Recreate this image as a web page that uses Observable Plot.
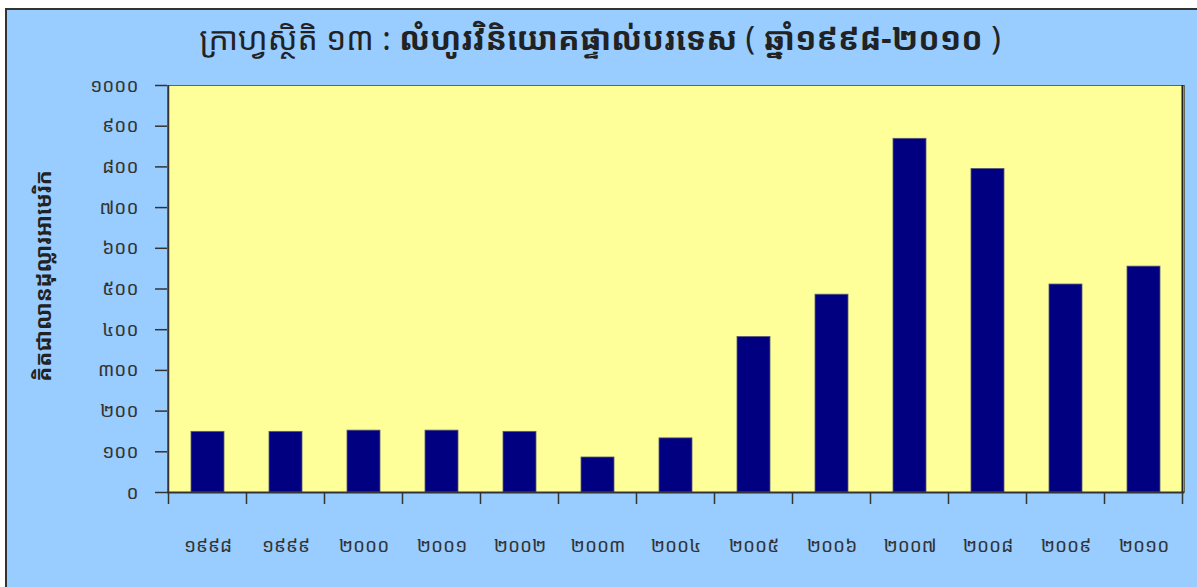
<!DOCTYPE html>
<html>
<head>
<meta charset="utf-8">
<script src="https://cdn.jsdelivr.net/npm/d3@7"></script>
<script src="https://cdn.jsdelivr.net/npm/@observablehq/plot@0.6"></script>
<style>
  html, body { margin: 0; padding: 0; background: #ffffff; overflow: hidden; width: 1197px; height: 587px; }
  #frame {
    position: absolute; left: 5px; top: 8px; width: 1200px; height: 600px;
    background: #99CCFF; border: 2px solid #333333; overflow: hidden;
    font-family: "Noto Sans Khmer", "Khmer OS", "Khmer OS System", "Noto Serif Khmer", "DejaVu Sans", sans-serif;
  }
  #title {
    height: 59px; width: 1186px; text-align: center; line-height: 56px;
    font-size: 32px; color: #222222; white-space: nowrap;
  }
  #title b { font-weight: bold; }
  #chart { position: absolute; left: 0; top: 59px; }
</style>
</head>
<body>
<div id="frame">
  <div id="title">ក្រាហ្វស្ថិតិ ១៣ : <b>លំហូរវិនិយោគផ្ទាល់បរទេស</b> ( <b>ឆ្នាំ១៩៩៨-២០១០</b> )</div>
  <div id="chart"></div>
</div>
<script>
const years = ["១៩៩៨","១៩៩៩","២០០០","២០០១","២០០២","២០០៣","២០០៤","២០០៥","២០០៦","២០០៧","២០០៨","២០០៩","២០១០"];
const fdi = [149, 149, 152, 152, 149, 86, 133, 382, 486, 869, 795, 511, 555];
const yTicks = [0, 100, 200, 300, 400, 500, 600, 700, 800, 900, 1000];
const yTickLabels = ["០","១០០","២០០","៣០០","៤០០","៥០០","៦០០","៧០០","៨០០","៩០០","១០០០"];
const yLabel = "គិតជាលានដុល្លារអាមេរិក";

const data = years.map((y, i) => ({year: y, value: fdi[i]}));
const khFont = '"Noto Sans Khmer", "Khmer OS", "Khmer OS System", "Noto Serif Khmer", "DejaVu Sans", sans-serif';

const chart = Plot.plot({
  width: 1190,
  height: 518,
  marginLeft: 160,
  marginRight: 13,
  marginTop: 16,
  marginBottom: 95,
  style: {background: "transparent", fontFamily: khFont, fontSize: "19px", color: "#333333"},
  x: {domain: years, paddingInner: 0.58, paddingOuter: 0.29, label: null},
  y: {domain: [0, 1000], label: null},
  marks: [
    Plot.frame({fill: "#FFFF99", stroke: "#666655", strokeWidth: 1}),
    Plot.barY(data, {x: "year", y: "value", fill: "#000080", stroke: "#5a5a7a", strokeWidth: 0.8}),
    Plot.axisY({ticks: yTicks, tickFormat: (d) => yTickLabels[yTicks.indexOf(d)], tickSize: 12, tickPadding: 17, stroke: "#333333", strokeWidth: 1.5, label: null}),
    Plot.axisX({tickSize: 0, tickPadding: 46, label: null}),
    Plot.ruleY([0], {stroke: "#333333", strokeWidth: 2}),
    function(index, scales, values, dims) {
      const x = scales.x, y = scales.y;
      const step = x.step(), bw = x.bandwidth();
      const g = d3.create("svg:g").attr("stroke", "#333333").attr("stroke-width", 1.5);
      const y0 = y(0);
      const edges = years.map(d => x(d) - (step - bw) / 2);
      edges.push(x(years[years.length - 1]) + bw + (step - bw) / 2);
      for (const e of edges) {
        g.append("line").attr("x1", e).attr("x2", e).attr("y1", y0).attr("y2", y0 + 12);
      }
      g.append("line").attr("x1", edges[0]).attr("x2", edges[0]).attr("y1", y(1000)).attr("y2", y0);
      g.append("line").attr("x1", edges[edges.length-1]).attr("x2", edges[edges.length-1]).attr("y1", y(1000)).attr("y2", y0).attr("stroke", "#222222").attr("stroke-width", 2);
      return g.node();
    },
    Plot.text([yLabel], {
      frameAnchor: "left", textAnchor: "middle", dx: -124, dy: -13, rotate: -90,
      fontWeight: "bold", fontSize: 22, fill: "#222222"
    })
  ]
});
document.getElementById("chart").appendChild(chart);
</script>
</body>
</html>
